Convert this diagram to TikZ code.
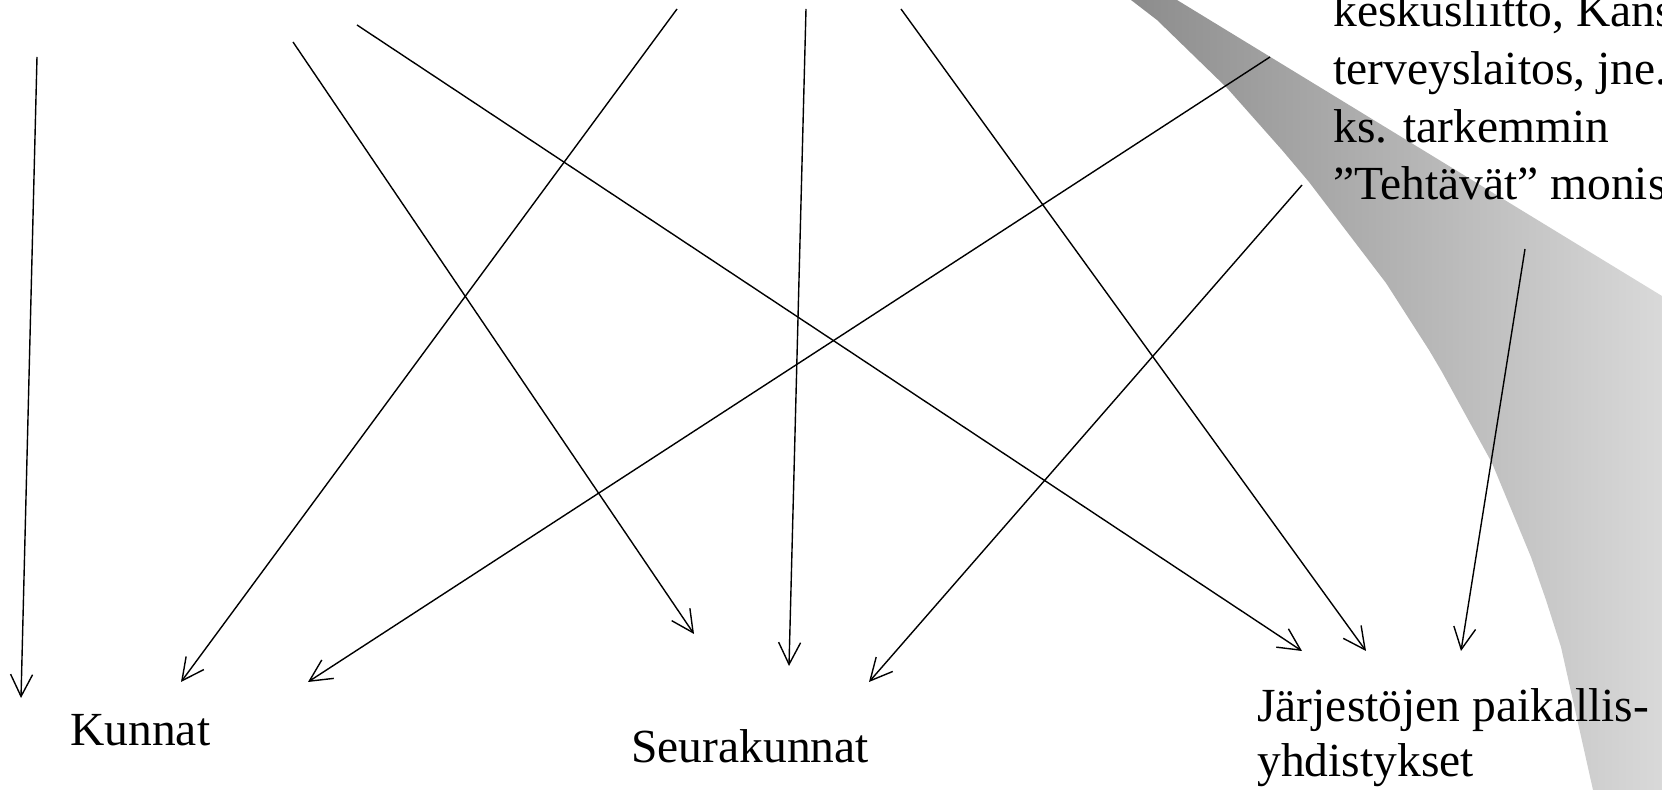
\documentclass[tikz,border=0pt]{standalone}
\usepackage{fontspec}
\setmainfont{Liberation Serif}
\usepackage{tikz}
\usetikzlibrary{arrows.meta}
\tikzset{
  linkarrow/.style={
    -{Straight Barb[length=11pt,width=11pt]},
    line width=0.7pt,
    draw=black
  },
  grouplabel/.style={
    inner sep=0pt,
    anchor=base west,
    align=left,
    font=\fontsize{23.75pt}{27.5pt}\selectfont
  },
  notelabel/.style={
    grouplabel,
    font=\fontsize{23.75pt}{28.85pt}\selectfont
  }
}
\begin{document}
\begin{tikzpicture}[x=0.5pt,y=-0.5pt]
\useasboundingbox (0,0) rectangle (1662,790);
\clip (0,0) rectangle (1662,790);
\shade[left color=black!45, right color=black!15]
  (1131,0) -- (1177,0) -- (1662,296) -- (1662,790) -- (1593,790) -- (1561,647)
  -- (1546,600) -- (1531,557) -- (1492,463) -- (1442,372) -- (1429,350)
  -- (1386,283) -- (1309,182) -- (1282,150) -- (1227,88) -- (1157,20) -- cycle;
\node[notelabel] (kesk) at (1333,200) {keskusliitto, Kans\\terveyslaitos, jne.\\ks. tarkemmin\\”Tehtävät” monis};
\node[grouplabel] (kunnat) at (70,746) {Kunnat};
\node[grouplabel] (seura) at (631,763) {Seurakunnat};
\node[grouplabel] (jarj) at (1257,777) {Järjestöjen paikallis-\\yhdistykset};
\coordinate (a1) at (37,57);
\coordinate (a2) at (293,42);
\coordinate (a3) at (357,25);
\coordinate (a4) at (677,9);
\coordinate (a5) at (806,9);
\coordinate (a6) at (901,9);
\coordinate (a7) at (1270,57);
\coordinate (a8) at (1302,185);
\coordinate (a9) at (1525,249);
\coordinate (b1) at (21,698);
\coordinate (b2) at (694,634);
\coordinate (b3) at (1302,651);
\coordinate (b4) at (181,682);
\coordinate (b5) at (789,666);
\coordinate (b6) at (1366,651);
\coordinate (b7) at (308,682);
\coordinate (b8) at (869,682);
\coordinate (b9) at (1461,651);
\draw[linkarrow] (a1) -- (b1);
\draw[linkarrow] (a2) -- (b2);
\draw[linkarrow] (a3) -- (b3);
\draw[linkarrow] (a4) -- (b4);
\draw[linkarrow] (a5) -- (b5);
\draw[linkarrow] (a6) -- (b6);
\draw[linkarrow] (a7) -- (b7);
\draw[linkarrow] (a8) -- (b8);
\draw[linkarrow] (a9) -- (b9);
\end{tikzpicture}
\end{document}
